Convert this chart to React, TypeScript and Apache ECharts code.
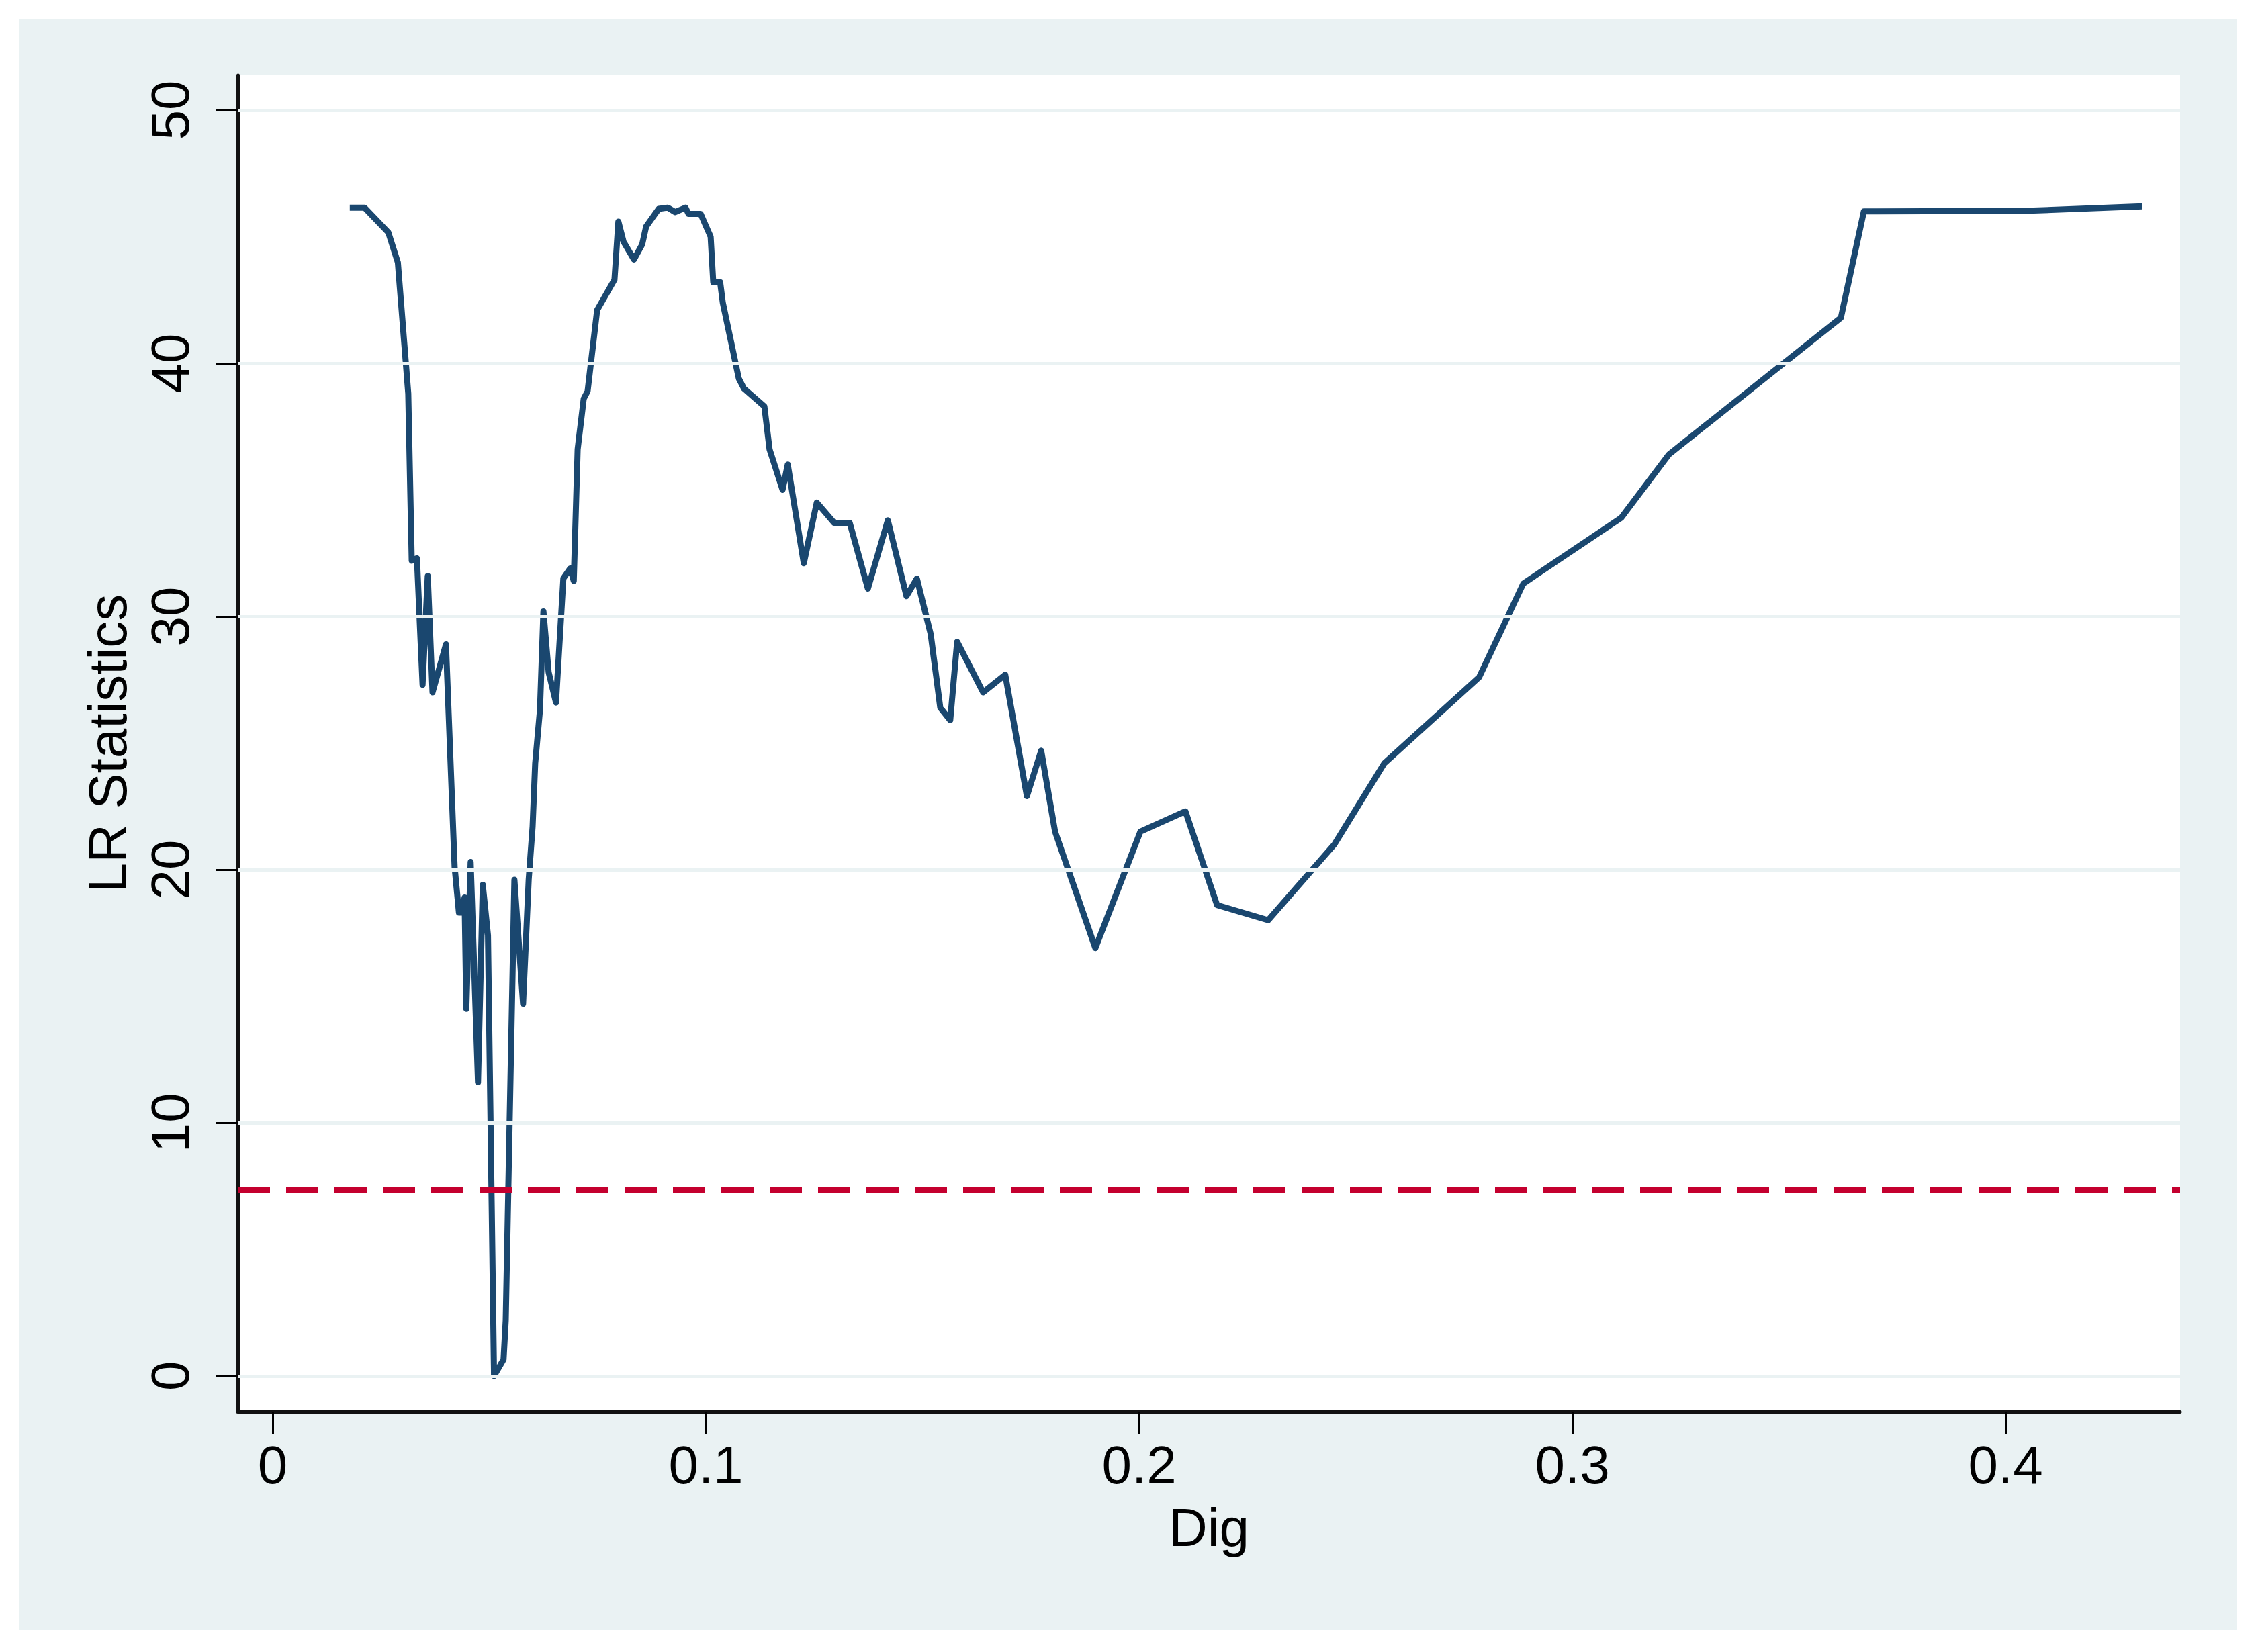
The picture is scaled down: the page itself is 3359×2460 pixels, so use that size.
import React, { useEffect, useRef } from "react";
import * as echarts from "echarts";

// Threshold variable (Dig) values and the LR statistics
const digValues = [
  0.0178, 0.0212, 0.0267, 0.0289, 0.0313, 0.0321, 0.0333, 0.0346, 0.0358, 0.0369,
  0.04, 0.042, 0.043, 0.0437, 0.0443, 0.0447, 0.0457, 0.0474, 0.0485, 0.0497,
  0.0511, 0.0533, 0.0538, 0.0558, 0.0578, 0.0591, 0.06, 0.0606, 0.0617, 0.0625,
  0.0637, 0.0654, 0.0671, 0.0687, 0.0695, 0.0704, 0.0718, 0.0727, 0.0749, 0.0789,
  0.0798, 0.081, 0.0834, 0.0853, 0.0862, 0.0891, 0.0912, 0.0929, 0.0953, 0.096,
  0.0988, 0.1011, 0.1017, 0.1033, 0.1039, 0.1076, 0.1088, 0.1135, 0.1147, 0.1177,
  0.1189, 0.1226, 0.1256, 0.1296, 0.1332, 0.1374, 0.142, 0.1463, 0.1487, 0.1519,
  0.1541, 0.1564, 0.158, 0.164, 0.1691, 0.1741, 0.1774, 0.1806, 0.1899, 0.2003,
  0.2107, 0.218, 0.2298, 0.2451, 0.2566, 0.2785, 0.2887, 0.3113, 0.3223, 0.362,
  0.3673, 0.4042, 0.4316,
];
const lrValues = [
  46.15, 46.15, 45.17, 43.98, 38.8, 32.2, 32.3, 27.3, 31.6, 27.0,
  28.9, 20.1, 18.3, 18.3, 18.9, 14.5, 20.3, 11.6, 19.4, 17.4,
  0.0, 0.65, 2.2, 19.6, 14.7, 19.6, 21.7, 24.2, 26.3, 30.2,
  27.8, 26.6, 31.5, 31.9, 31.4, 36.6, 38.6, 38.9, 42.1, 43.3,
  45.6, 44.8, 44.1, 44.7, 45.4, 46.1, 46.15, 45.97, 46.15, 45.9,
  45.9, 45.0, 43.2, 43.2, 42.4, 39.4, 39.0, 38.3, 36.6, 35.0,
  36.0, 32.1, 34.5, 33.7, 33.7, 31.1, 33.8, 30.8, 31.5, 29.3,
  26.4, 25.9, 29.0, 27.0, 27.7, 22.9, 24.7, 21.5, 16.9, 21.5,
  22.3, 18.6, 18.0, 21.0, 24.2, 27.6, 31.3, 33.9, 36.4, 41.8,
  46.0, 46.02, 46.2,
];
const xTickValues = [0, 0.1, 0.2, 0.3, 0.4];
const yTickValues = [0, 10, 20, 30, 40, 50];
const criticalValue = 7.36;
const xTitle = "Dig";
const yTitle = "LR Statistics";

const FONT = "'Liberation Sans', Arial, Helvetica, sans-serif";

export default function App() {
  const ref = useRef<HTMLDivElement>(null);

  useEffect(() => {
    if (!ref.current) return;
    const chart = echarts.init(ref.current, undefined, { renderer: "svg" });
    const lineData = digValues.map((d, i) => [d, lrValues[i]]);
    chart.setOption({
      animation: false,
      backgroundColor: "#EAF2F3",
      textStyle: { fontFamily: FONT },
      grid: {
        left: 325,
        top: 83,
        right: 84,
        bottom: 325,
        show: true,
        backgroundColor: "#ffffff",
        borderWidth: 0,
        containLabel: false,
        outerBoundsMode: "none",
      },
      xAxis: {
        type: "value",
        min: -0.00806,
        max: 0.4403,
        name: xTitle,
        nameLocation: "middle",
        nameGap: 132,
        nameTextStyle: { fontSize: 80, color: "#000", fontFamily: FONT },
        axisLine: { show: true, onZero: false, lineStyle: { color: "#111", width: 5 } },
        axisTick: {
          show: true,
          customValues: xTickValues,
          length: 33,
          lineStyle: { color: "#000", width: 3 },
        },
        axisLabel: {
          customValues: xTickValues,
          fontSize: 80,
          color: "#000",
          margin: 39,
          fontFamily: FONT,
        },
        splitLine: { show: false },
      },
      yAxis: {
        type: "value",
        min: -1.41,
        max: 51.38,
        name: yTitle,
        nameLocation: "middle",
        nameGap: 154,
        nameRotate: 90,
        nameTextStyle: { fontSize: 80, color: "#000", fontFamily: FONT },
        axisLine: { show: true, onZero: false, lineStyle: { color: "#111", width: 5 } },
        axisTick: {
          show: true,
          customValues: yTickValues,
          length: 33,
          lineStyle: { color: "#000", width: 3 },
        },
        axisLabel: {
          customValues: yTickValues,
          rotate: 90,
          fontSize: 80,
          color: "#000",
          margin: 61,
          fontFamily: FONT,
        },
        splitLine: { show: false },
      },
      series: [
        {
          name: "grid",
          type: "line",
          data: [],
          z: 1,
          silent: true,
          markLine: {
            silent: true,
            symbol: ["none", "none"],
            label: { show: false },
            lineStyle: { color: "#EAF2F3", width: 5, type: "solid" },
            data: yTickValues.map((v) => ({ yAxis: v })),
          },
        },
        {
          name: "LR",
          type: "line",
          data: lineData,
          z: 2,
          showSymbol: false,
          symbol: "none",
          lineStyle: { color: "#1A476F", width: 9, join: "round", cap: "butt" },
        },
        {
          name: "critical",
          type: "line",
          data: [],
          z: 3,
          silent: true,
          markLine: {
            silent: true,
            symbol: ["none", "none"],
            label: { show: false },
            lineStyle: { color: "#C4002F", width: 8, type: [48, 24] },
            data: [{ yAxis: criticalValue }],
          },
        },
      ],
    });
    return () => chart.dispose();
  }, []);

  return (
    <div
      style={{
        position: "absolute",
        left: 0,
        top: 0,
        width: 3359,
        height: 2460,
        background: "#ffffff",
      }}
    >
      <div
        ref={ref}
        style={{ position: "absolute", left: 29, top: 29, width: 3301, height: 2398 }}
      />
    </div>
  );
}
